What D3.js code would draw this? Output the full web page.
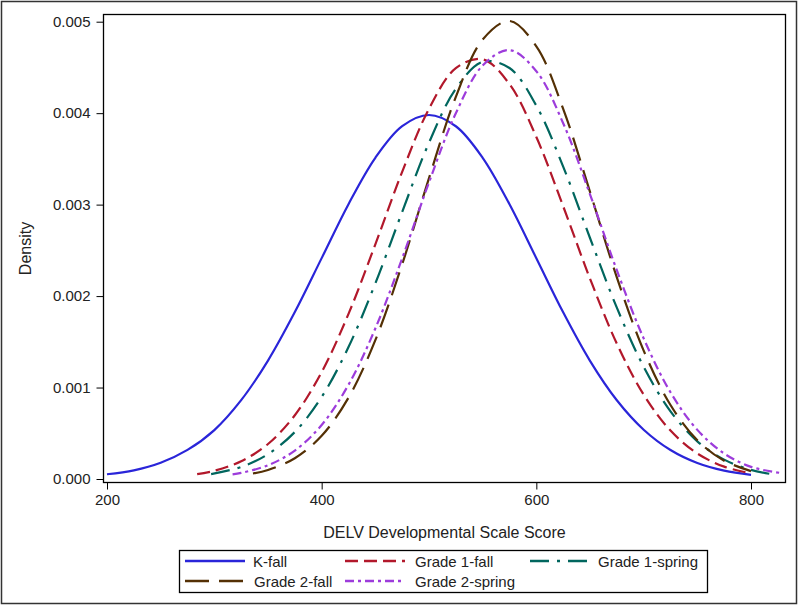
<!DOCTYPE html>
<html>
<head>
<meta charset="utf-8">
<script src="https://cdn.jsdelivr.net/npm/d3@7"></script>
<style>
  body { margin: 0; background: #fff; }
  text { font-family: "Liberation Sans", Arial, sans-serif; fill: #222; }
</style>
</head>
<body>
<div id="container"></div>
<script>
// density curves (score, density)
const kFallX = [200, 225, 250, 275, 300, 325, 350, 375, 400, 425, 450, 475, 500, 525, 550, 575, 600, 625, 650, 675, 700, 725, 750, 775, 800];
const kFallY = [0.000052, 0.000095, 0.000178, 0.000318, 0.000535, 0.000862, 0.001295, 0.001825, 0.002415, 0.003005, 0.003512, 0.003858, 0.00398, 0.003857, 0.003512, 0.003004, 0.002414, 0.001822, 0.001292, 0.000861, 0.000539, 0.000317, 0.000175, 0.000091, 0.000046];

const g1FallX = [284, 300, 325, 350, 375, 400, 425, 450, 475, 500, 525, 550, 575, 600, 625, 650, 675, 700, 725, 750, 775, 800];
const g1FallY = [0.000053, 0.00009, 0.000194, 0.000383, 0.000697, 0.001169, 0.001805, 0.002566, 0.003358, 0.004048, 0.004492, 0.004589, 0.004317, 0.003739, 0.002982, 0.002191, 0.00148, 0.000922, 0.000529, 0.000279, 0.000135, 0.000061];

const g1SpringX = [297, 325, 350, 375, 400, 425, 450, 475, 500, 525, 550, 575, 600, 625, 650, 675, 700, 725, 750, 775, 800, 817];
const g1SpringY = [0.000054, 0.000132, 0.000272, 0.000514, 0.000897, 0.001443, 0.002138, 0.00292, 0.003677, 0.004266, 0.004561, 0.004494, 0.004082, 0.003416, 0.002635, 0.001873, 0.001227, 0.00074, 0.000412, 0.000212, 0.0001, 0.000057];

const g2FallX = [336, 350, 375, 400, 425, 450, 475, 500, 525, 550, 575, 600, 625, 650, 675, 700, 725, 750, 775, 800];
const g2FallY = [0.00006, 0.000099, 0.000227, 0.000472, 0.000889, 0.001518, 0.002348, 0.00329, 0.004177, 0.004805, 0.005008, 0.00473, 0.004048, 0.003139, 0.002205, 0.001404, 0.000809, 0.000423, 0.0002, 0.000086];

const g2SpringX = [317, 325, 350, 375, 400, 425, 450, 475, 500, 525, 550, 575, 600, 625, 650, 675, 700, 725, 750, 775, 800, 828];
const g2SpringY = [0.00005, 0.000067, 0.00015, 0.000311, 0.000591, 0.00103, 0.001646, 0.002413, 0.003243, 0.003999, 0.004521, 0.004689, 0.004459, 0.00389, 0.003112, 0.002283, 0.001537, 0.000948, 0.000537, 0.000279, 0.000133, 0.000065];

const seriesNames = ["K-fall", "Grade 1-fall", "Grade 1-spring", "Grade 2-fall", "Grade 2-spring"];
const xTicks = [200, 400, 600, 800];
const yTicks = [0, 0.001, 0.002, 0.003, 0.004, 0.005];

main();

function main() {
  const width = 800;
  const height = 607;
  const plot = { left: 103.5, top: 14.5, right: 785.5, bottom: 482.5 };

  const series = [
    { name: seriesNames[0], xs: kFallX, ys: kFallY, color: "#2A25D9", dash: null },
    { name: seriesNames[1], xs: g1FallX, ys: g1FallY, color: "#B2182B", dash: "13,6" },
    { name: seriesNames[2], xs: g1SpringX, ys: g1SpringY, color: "#01665E", dash: "19,8,3,8" },
    { name: seriesNames[3], xs: g2FallX, ys: g2FallY, color: "#543005", dash: "24,10" },
    { name: seriesNames[4], xs: g2SpringX, ys: g2SpringY, color: "#9D3CDB", dash: "9,4,3,4" },
  ];

  const svg = d3
    .select("#container")
    .append("svg")
    .attr("width", width)
    .attr("height", height);

  // outer frame
  svg
    .append("rect")
    .attr("x", 1.5)
    .attr("y", 1.5)
    .attr("width", 795)
    .attr("height", 602)
    .attr("fill", "none")
    .attr("stroke", "#333")
    .attr("stroke-width", 1.5);

  const scaleX = d3.scaleLinear().domain([200, 800]).range([107, 751]);
  const scaleY = d3.scaleLinear().domain([0, 0.005]).range([479, 21.7]);

  svg
    .append("clipPath")
    .attr("id", "plotClip")
    .append("rect")
    .attr("x", plot.left)
    .attr("y", plot.top)
    .attr("width", plot.right - plot.left)
    .attr("height", plot.bottom - plot.top);

  const axisX = svg
    .append("g")
    .attr("transform", `translate(0, ${plot.bottom})`)
    .call(d3.axisBottom(scaleX).tickValues(xTicks).tickSize(7).tickSizeOuter(0).tickPadding(5));
  axisX.select(".domain").remove();
  axisX.selectAll("text").attr("font-size", 15).attr("font-family", "Liberation Sans, Arial, sans-serif").attr("fill", "#222");
  axisX.selectAll("line").attr("stroke", "#000");

  const axisY = svg
    .append("g")
    .attr("transform", `translate(${plot.left}, 0)`)
    .call(d3.axisLeft(scaleY).tickValues(yTicks).tickFormat(d3.format(".3f")).tickSize(7).tickSizeOuter(0).tickPadding(6));
  axisY.select(".domain").remove();
  axisY.selectAll("text").attr("font-size", 15).attr("font-family", "Liberation Sans, Arial, sans-serif").attr("fill", "#222");
  axisY.selectAll("line").attr("stroke", "#000");

  const lineGen = d3
    .line()
    .x((d) => scaleX(d[0]))
    .y((d) => scaleY(d[1]))
    .curve(d3.curveCatmullRom);

  const curves = svg.append("g").attr("clip-path", "url(#plotClip)");
  curves
    .selectAll("path")
    .data(series)
    .join("path")
    .attr("d", (s) => lineGen(s.xs.map((x, i) => [x, s.ys[i]])))
    .attr("fill", "none")
    .attr("stroke", (s) => s.color)
    .attr("stroke-width", 2.2)
    .attr("stroke-dasharray", (s) => s.dash);

  // plot frame
  svg
    .append("rect")
    .attr("x", plot.left)
    .attr("y", plot.top)
    .attr("width", plot.right - plot.left)
    .attr("height", plot.bottom - plot.top)
    .attr("fill", "none")
    .attr("stroke", "#000")
    .attr("stroke-width", 1.3);

  // axis titles
  svg
    .append("text")
    .text("DELV Developmental Scale Score")
    .attr("x", (plot.left + plot.right) / 2)
    .attr("y", 532)
    .attr("text-anchor", "middle")
    .attr("dominant-baseline", "central")
    .attr("font-size", 16);
  svg
    .append("text")
    .text("Density")
    .attr("transform", `translate(25, ${(plot.top + plot.bottom) / 2}) rotate(-90)`)
    .attr("text-anchor", "middle")
    .attr("dominant-baseline", "central")
    .attr("font-size", 16);

  // legend
  const legend = svg.append("g");
  legend
    .append("rect")
    .attr("x", 179.5)
    .attr("y", 550.5)
    .attr("width", 528)
    .attr("height", 42)
    .attr("fill", "none")
    .attr("stroke", "#000")
    .attr("stroke-width", 1.3);

  const slots = [
    { x: 185, tx: 253, y: 561 },
    { x: 345, tx: 415, y: 561 },
    { x: 530, tx: 598, y: 561 },
    { x: 185, tx: 254, y: 581 },
    { x: 345, tx: 415, y: 581 },
  ];
  const items = legend
    .selectAll("g.item")
    .data(series)
    .join("g")
    .classed("item", true)
    .attr("transform", (s, i) => `translate(0, ${slots[i].y})`);
  items
    .append("line")
    .attr("x1", (s, i) => slots[i].x)
    .attr("x2", (s, i) => slots[i].x + 60)
    .attr("stroke", (s) => s.color)
    .attr("stroke-width", 2.5)
    .attr("stroke-dasharray", (s) => s.dash);
  items
    .append("text")
    .text((s) => s.name)
    .attr("x", (s, i) => slots[i].tx)
    .attr("dominant-baseline", "central")
    .attr("font-size", 15);
}
</script>
</body>
</html>
